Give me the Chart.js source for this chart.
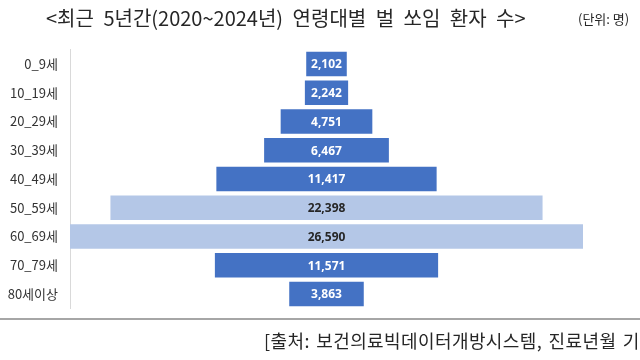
<!DOCTYPE html>
<html><head><meta charset="utf-8">
<script src="https://cdn.jsdelivr.net/npm/chart.js@4"></script>
<style>
html,body{margin:0;padding:0;background:#fff;overflow:hidden;}
#wrap{position:relative;width:640px;height:360px;overflow:hidden;font-family:"Noto Sans CJK KR","Noto Sans",sans-serif;}
#c{position:absolute;left:0;top:0;}
.title{position:absolute;left:46px;top:3px;font-size:20px;line-height:29px;color:#262626;white-space:nowrap;word-spacing:5px;}
.unit{position:absolute;left:578px;top:10px;font-size:13px;line-height:18px;color:#262626;white-space:nowrap;}
.rule{position:absolute;left:0;top:318px;width:640px;height:2px;background:#a6a6a6;}
.src{position:absolute;left:264px;top:327px;font-size:18px;line-height:26px;color:#262626;white-space:nowrap;word-spacing:2px;letter-spacing:0.4px;}
</style></head>
<body><div id="wrap">
<canvas id="c" width="640" height="360"></canvas>
<div class="title">&lt;최근 5년간(2020~2024년) 연령대별 벌 쏘임 환자 수&gt;</div>
<div class="unit">(단위: 명)</div>
<div class="rule"></div>
<div class="src">[출처: 보건의료빅데이터개방시스템, 진료년월 기준]</div>
</div>
<script>
const categories = ["0_9세","10_19세","20_29세","30_39세","40_49세","50_59세","60_69세","70_79세","80세이상"];
const patients = [2102, 2242, 4751, 6467, 11417, 22398, 26590, 11571, 3863];
const highlight = [false,false,false,false,false,true,true,false,false];

const DARK = "#4472C4", LIGHT = "#B4C7E7";
const half = Math.max(...patients) / 2;

const labelPlugin = {
  id: "centerLabels",
  afterDatasetsDraw(chart) {
    const ctx = chart.ctx;
    const meta = chart.getDatasetMeta(0);
    ctx.save();
    ctx.font = "bold 12px 'Noto Sans','Noto Sans CJK KR',sans-serif";
    ctx.textAlign = "center";
    ctx.textBaseline = "middle";
    meta.data.forEach((bar, i) => {
      const cx = (bar.x + bar.base) / 2;
      ctx.fillStyle = highlight[i] ? "#262626" : "#ffffff";
      ctx.fillText(patients[i].toLocaleString("en-US"), cx, bar.y + 1);
    });
    ctx.restore();
  }
};

new Chart(document.getElementById("c"), {
  type: "bar",
  data: {
    labels: categories,
    datasets: [{
      data: patients.map(v => [-v / 2, v / 2]),
      backgroundColor: highlight.map(h => h ? LIGHT : DARK),
      borderWidth: 0,
      barPercentage: 0.855,
      categoryPercentage: 1
    }]
  },
  options: {
    indexAxis: "y",
    responsive: false,
    animation: false,
    layout: { padding: { top: 49.6, bottom: 51.6, right: 57, left: 0 } },
    plugins: { legend: { display: false }, tooltip: { enabled: false } },
    scales: {
      x: { display: false, min: -half, max: half },
      y: {
        grid: { display: false, drawTicks: false },
        border: { display: true, color: "#d9d9d9", width: 1 },
        ticks: { color: "#333333", font: { size: 13, family: "'Noto Sans CJK KR','Noto Sans',sans-serif" }, padding: 12 },
        afterFit(scale) { scale.width = 70; }
      }
    }
  },
  plugins: [labelPlugin]
});
</script>
</body></html>
